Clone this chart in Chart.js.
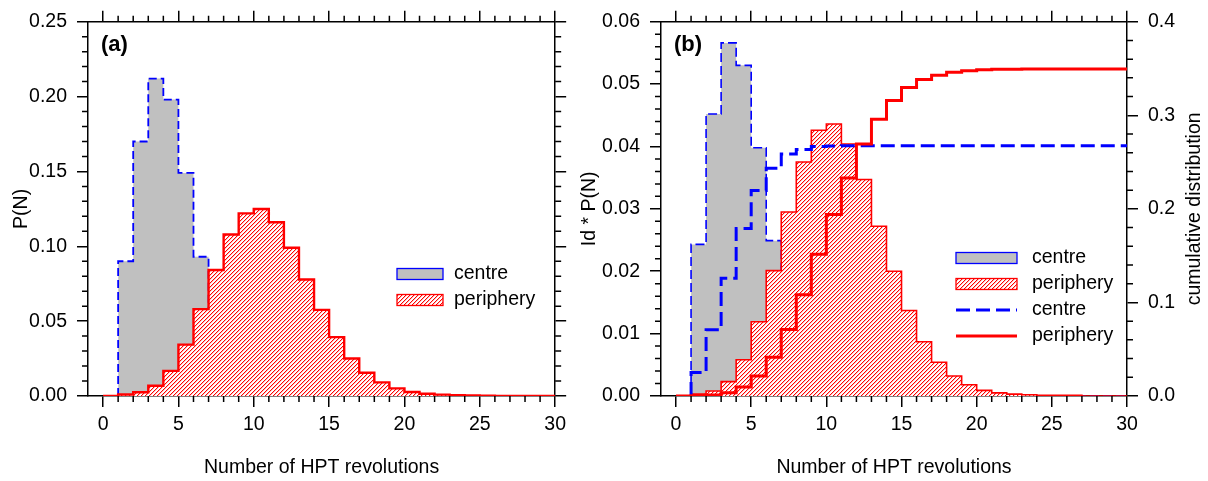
<!DOCTYPE html>
<html>
<head>
<meta charset="utf-8">
<script src="https://cdn.jsdelivr.net/npm/chart.js@4.4.1/dist/chart.umd.min.js"></script>
<style>
  html, body { margin: 0; padding: 0; background: #fff; }
  #wrap { position: relative; width: 1208px; height: 481px; overflow: hidden; }
  .panel { position: absolute; top: 0; height: 481px; }
  #pa { left: 0; width: 572px; }
  #pb { left: 572px; width: 636px; }
</style>
</head>
<body>
<div id="wrap">
  <div class="panel" id="pa"><canvas id="chartA"></canvas></div>
  <div class="panel" id="pb"><canvas id="chartB"></canvas></div>
</div>
<script>
// tick labels
var xTicks = [0, 5, 10, 15, 20, 25, 30];
var pTicks = [0, 0.05, 0.10, 0.15, 0.20, 0.25];
var idpTicks = [0, 0.01, 0.02, 0.03, 0.04, 0.05, 0.06];
var cumTicks = [0, 0.1, 0.2, 0.3, 0.4];

// one value per bin [N, N+1), N = 0..29
var centreP = [0, 0.090, 0.170, 0.212, 0.198, 0.149, 0.093, 0.057, 0.019, 0.010,
  0.002, 0.001, 0, 0, 0, 0, 0, 0, 0, 0,
  0, 0, 0, 0, 0, 0, 0, 0, 0, 0];
var peripheryP = [0, 0.001, 0.0025, 0.0068, 0.0168, 0.0343, 0.058, 0.0842, 0.1079, 0.122,
  0.1249, 0.116, 0.099, 0.0778, 0.0575, 0.0393, 0.025, 0.0155, 0.0091, 0.0051,
  0.0027, 0.0015, 0.0009, 0.0005, 0.0003, 0.0002, 0.0001, 0.0001, 0.0001, 0];

// panel (b): Id * P(N)
var centreIdP = [0, 0.0243, 0.0452, 0.0566, 0.0530, 0.0398, 0.0249, 0.0152, 0.0050, 0.0027,
  0.0005, 0.0003, 0, 0, 0, 0, 0, 0, 0, 0,
  0, 0, 0, 0, 0, 0, 0, 0, 0, 0];
var peripheryIdP = [0, 0.0003, 0.0008, 0.0023, 0.0058, 0.0119, 0.0201, 0.0295, 0.0375, 0.0426,
  0.0436, 0.0404, 0.0347, 0.0272, 0.0200, 0.0137, 0.0087, 0.0054, 0.0032, 0.0018,
  0.0009, 0.0005, 0.0003, 0.0002, 0.0001, 0.0001, 0.0001, 0, 0, 0];

// panel (b): cumulative distribution (right axis)
var centreCum = [0, 0.0251, 0.0708, 0.1259, 0.1790, 0.2196, 0.2433, 0.2585, 0.2635, 0.2665,
  0.2672, 0.2675, 0.2675, 0.2675, 0.2675, 0.2675, 0.2675, 0.2675, 0.2675, 0.2675,
  0.2675, 0.2675, 0.2675, 0.2675, 0.2675, 0.2675, 0.2675, 0.2675, 0.2675, 0.2675];
var peripheryCum = [0, 0.0003, 0.0012, 0.0036, 0.0095, 0.0214, 0.0415, 0.0710, 0.1082, 0.1514,
  0.1940, 0.2330, 0.2692, 0.2957, 0.3159, 0.3297, 0.3382, 0.3427, 0.3459, 0.3476,
  0.3487, 0.3491, 0.3493, 0.3494, 0.3494, 0.3494, 0.3495, 0.3495, 0.3495, 0.3495];

var FONT = "'Liberation Sans', Arial, Helvetica, sans-serif";
Chart.defaults.font.family = FONT;
Chart.defaults.font.size = 19.5;
Chart.defaults.color = '#000';

// histogram bins -> step points
function steps(values, start) {
  var pts = [{x: start, y: 0}];
  for (var i = start; i < values.length; i++) pts.push({x: i, y: values[i]});
  pts.push({x: values.length, y: values[values.length - 1]});
  return pts;
}

// red "////" hatch on white, built pixel by pixel
function makeHatch() {
  var s = 4;
  var c = document.createElement('canvas');
  c.width = s; c.height = s;
  var g = c.getContext('2d');
  var img = g.createImageData(s, s);
  for (var j = 0; j < s; j++) {
    for (var i = 0; i < s; i++) {
      var k = (j * s + i) * 4, d = (i + j) % s;
      var gb = d === 0 ? 0 : (d === 1 ? 190 : 255);
      img.data[k] = 255; img.data[k + 1] = gb; img.data[k + 2] = gb; img.data[k + 3] = 255;
    }
  }
  g.putImageData(img, 0, 0);
  return g.createPattern(c, 'repeat');
}
var hatch = makeHatch();

var grid = { drawOnChartArea: false, drawTicks: true, tickLength: 11, color: '#000', lineWidth: 1.5 };
var border = { display: true, color: '#000', width: 1.5 };

function fixed(list) {
  return function (s) { s.ticks = list.map(function (v) { return {value: v}; }); };
}

function axis(pos, min, max, list, size, opts) {
  var horiz = pos === 'top' || pos === 'bottom';
  var a = {
    type: 'linear', axis: horiz ? 'x' : 'y', position: pos, min: min, max: max,
    afterBuildTicks: fixed(list),
    afterFit: function (s) { if (horiz) s.height = size; else s.width = size; },
    grid: grid, border: border,
    ticks: { display: false, autoSkip: false, maxRotation: 0 }
  };
  if (opts) {
    a.ticks = { display: true, autoSkip: false, maxRotation: 0, padding: opts.pad, callback: opts.fmt };
    if (opts.title) a.title = { display: true, text: opts.title, padding: opts.tpad };
  }
  return a;
}

var decor = {
  id: 'decor',
  afterDraw: function (chart, args, o) {
    var ctx = chart.ctx, area = chart.chartArea;
    ctx.save();
    // minor ticks
    ctx.strokeStyle = '#000';
    ctx.lineWidth = 1.5;
    ctx.beginPath();
    o.minor.forEach(function (m) {
      var sc = chart.scales[m.id];
      var majors = sc.ticks.map(function (t) { return t.value; });
      for (var k = 0; m.from + k * m.step <= m.to + 1e-9; k++) {
        var v = m.from + k * m.step;
        if (majors.some(function (t) { return Math.abs(t - v) < m.step / 10; })) continue;
        var p = sc.getPixelForValue(v);
        if (sc.position === 'bottom') { ctx.moveTo(p, area.bottom); ctx.lineTo(p, area.bottom + 6); }
        else if (sc.position === 'top') { ctx.moveTo(p, area.top); ctx.lineTo(p, area.top - 6); }
        else if (sc.position === 'left') { ctx.moveTo(area.left, p); ctx.lineTo(area.left - 6, p); }
        else { ctx.moveTo(area.right, p); ctx.lineTo(area.right + 6, p); }
      }
    });
    ctx.stroke();

    // panel letter
    ctx.fillStyle = '#000';
    ctx.font = 'bold 22px ' + FONT;
    ctx.textAlign = 'left';
    ctx.textBaseline = 'middle';
    ctx.fillText(o.panel, area.left + 13, 45);

    // legend
    var lg = o.legend;
    ctx.font = '19.5px ' + FONT;
    chart.data.datasets.forEach(function (ds, i) {
      var cy = lg.y + i * lg.gap;
      if (ds.fill) {
        ctx.fillStyle = ds.backgroundColor;
        ctx.fillRect(lg.x, cy - 5.5, lg.w, 11);
        ctx.setLineDash([]);
        ctx.lineWidth = 1.3;
        ctx.strokeStyle = ds.borderColor;
        ctx.strokeRect(lg.x, cy - 5.5, lg.w, 11);
      } else {
        ctx.setLineDash(ds.borderDash || []);
        ctx.lineWidth = ds.borderWidth;
        ctx.strokeStyle = ds.borderColor;
        ctx.beginPath();
        ctx.moveTo(lg.x, cy);
        ctx.lineTo(lg.x + lg.w, cy);
        ctx.stroke();
        ctx.setLineDash([]);
      }
      ctx.fillStyle = '#000';
      ctx.fillText(ds.label, lg.x + lg.w + lg.tx, cy);
    });

    // right axis title, read bottom to top
    if (o.rightTitle) {
      ctx.translate(o.rightTitle.x, (area.top + area.bottom) / 2);
      ctx.rotate(-Math.PI / 2);
      ctx.textAlign = 'center';
      ctx.fillText(o.rightTitle.text, 0, 0);
    }
    ctx.restore();
  }
};

function fmt(d) { return function (v) { return Number(v).toFixed(d); }; }
function fmtInt(v) { return String(v); }

new Chart(document.getElementById('chartA'), {
  type: 'line',
  data: {
    datasets: [
      { label: 'centre', data: steps(centreP, 1), stepped: true, fill: 'origin',
        backgroundColor: '#c0c0c0', borderColor: '#0000ff', borderWidth: 1.8, borderDash: [8, 4],
        pointRadius: 0, order: 2 },
      { label: 'periphery', data: steps(peripheryP, 0), stepped: true, fill: 'origin',
        backgroundColor: hatch, borderColor: '#ff0000', borderWidth: 2.4,
        pointRadius: 0, order: 1 }
    ]
  },
  options: {
    responsive: true, maintainAspectRatio: false, animation: false,
    layout: { padding: 0, autoPadding: false },
    plugins: {
      legend: { display: false }, tooltip: { enabled: false },
      decor: {
        panel: '(a)',
        minor: [
          { id: 'x', from: 0, to: 30, step: 1 }, { id: 'x2', from: 0, to: 30, step: 1 },
          { id: 'y', from: 0, to: 0.25, step: 0.01 }, { id: 'y2', from: 0, to: 0.25, step: 0.01 }
        ],
        legend: { x: 397, y: 274, gap: 26, w: 46, tx: 11 }
      }
    },
    scales: {
      x: axis('bottom', -1, 30, xTicks, 85, { pad: 6, fmt: fmtInt, title: 'Number of HPT revolutions', tpad: { top: 0, bottom: 2 } }),
      x2: axis('top', -1, 30, xTicks, 19),
      y: axis('left', 0, 0.25, pTicks, 88, { pad: 10, fmt: fmt(2), title: 'P(N)', tpad: { top: 10, bottom: 0 } }),
      y2: axis('right', 0, 0.25, pTicks, 16)
    }
  },
  plugins: [decor]
});

new Chart(document.getElementById('chartB'), {
  type: 'line',
  data: {
    datasets: [
      { label: 'centre', data: steps(centreIdP, 1), yAxisID: 'y', stepped: true, fill: 'origin',
        backgroundColor: '#c0c0c0', borderColor: '#0000ff', borderWidth: 1.6, borderDash: [9, 4],
        pointRadius: 0, order: 4 },
      { label: 'periphery', data: steps(peripheryIdP, 0), yAxisID: 'y', stepped: true, fill: 'origin',
        backgroundColor: hatch, borderColor: '#ff0000', borderWidth: 1.6,
        pointRadius: 0, order: 3 },
      { label: 'centre', data: steps(centreCum, 1), yAxisID: 'y2', stepped: true, fill: false,
        borderColor: '#0000ff', borderWidth: 3, borderDash: [14, 6],
        pointRadius: 0, order: 2 },
      { label: 'periphery', data: steps(peripheryCum, 0), yAxisID: 'y2', stepped: true, fill: false,
        borderColor: '#ff0000', borderWidth: 3,
        pointRadius: 0, order: 1 }
    ]
  },
  options: {
    responsive: true, maintainAspectRatio: false, animation: false,
    layout: { padding: 0, autoPadding: false },
    plugins: {
      legend: { display: false }, tooltip: { enabled: false },
      decor: {
        panel: '(b)',
        minor: [
          { id: 'x', from: 0, to: 30, step: 1 }, { id: 'x2', from: 0, to: 30, step: 1 },
          { id: 'y', from: 0, to: 0.06, step: 0.002 }, { id: 'y2', from: 0, to: 0.4, step: 0.02 }
        ],
        legend: { x: 384, y: 258, gap: 26, w: 61, tx: 15 },
        rightTitle: { x: 623, text: 'cumulative distribution' }
      }
    },
    scales: {
      x: axis('bottom', -1, 30, xTicks, 85, { pad: 6, fmt: fmtInt, title: 'Number of HPT revolutions', tpad: { top: 0, bottom: 2 } }),
      x2: axis('top', -1, 30, xTicks, 19),
      y: axis('left', 0, 0.06, idpTicks, 89, { pad: 10, fmt: fmt(2), title: 'Id * P(N)', tpad: { top: 6, bottom: 0 } }),
      y2: axis('right', 0, 0.4, cumTicks, 81, { pad: 10, fmt: fmt(1) })
    }
  },
  plugins: [decor]
});
</script>
</body>
</html>
